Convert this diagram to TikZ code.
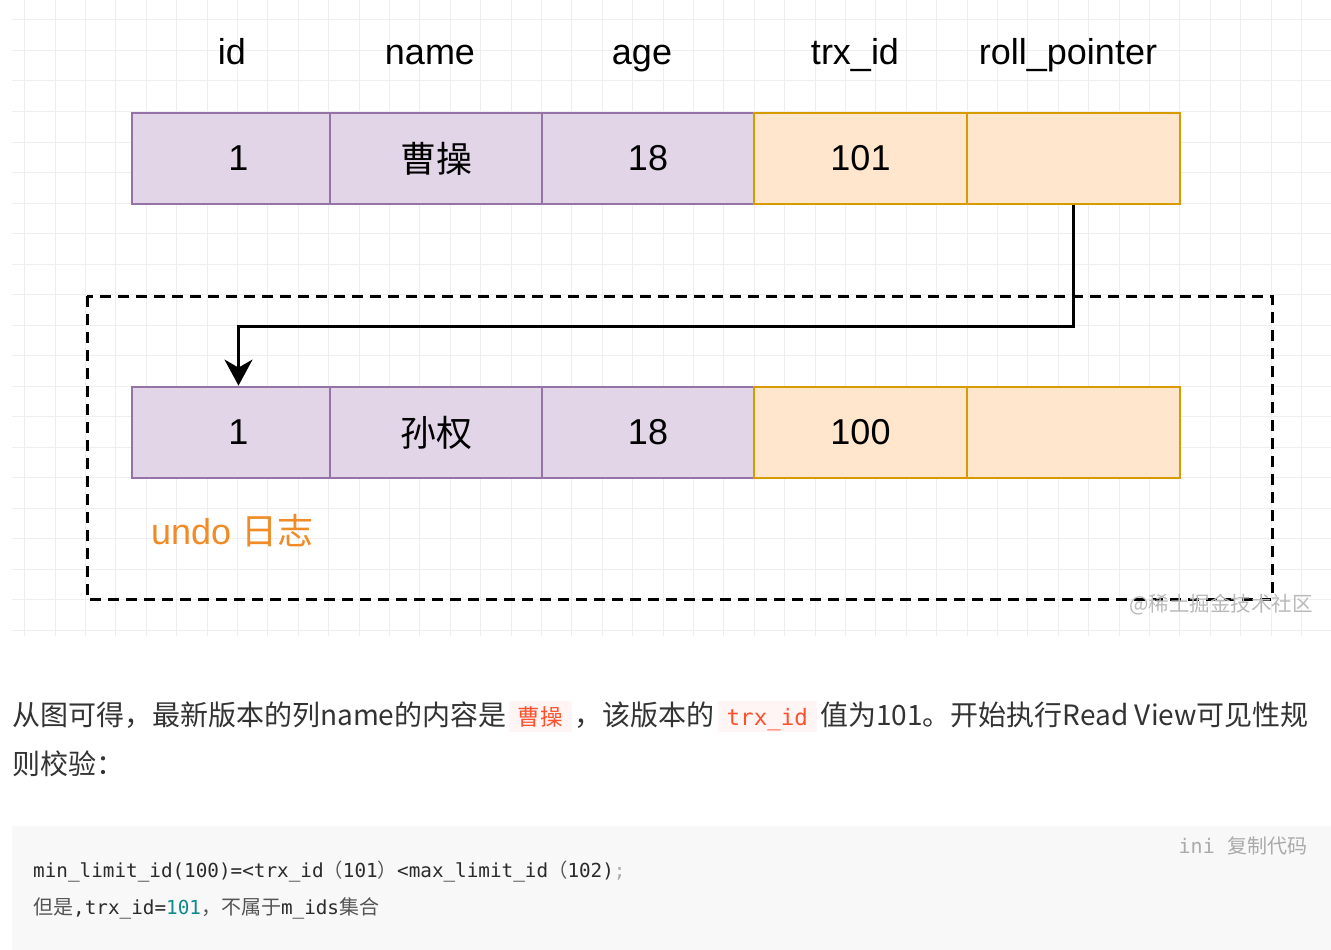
\documentclass[tikz,border=0pt]{standalone}
\usepackage{fontspec}
\setmainfont{Liberation Sans}
\newfontfamily\cjk{Noto Sans CJK SC}
\newfontfamily\mono{DejaVu Sans Mono}
\usetikzlibrary{arrows.meta}
\definecolor{pfill}{HTML}{E1D5E7}
\definecolor{pdraw}{HTML}{9673A6}
\definecolor{ofill}{HTML}{FFE6CC}
\definecolor{odraw}{HTML}{D79B00}
\definecolor{gridc}{HTML}{EEEEEE}
\definecolor{undoc}{HTML}{F08C28}
\definecolor{txt}{HTML}{333333}
\definecolor{codetxt}{HTML}{2B2B2B}
\definecolor{codecjk}{HTML}{555555}
\definecolor{codered}{HTML}{FF502C}
\definecolor{codebg}{HTML}{FFF5F5}
\definecolor{blockbg}{HTML}{F8F8F8}
\definecolor{numc}{HTML}{108A8A}
\definecolor{hint}{HTML}{AAAAAA}
\tikzset{
  cell/.style={line width=2.8pt, minimum height=91pt, inner sep=0pt,
    font=\fontsize{36}{40}\selectfont},
  pcell/.style={cell, fill=pfill, draw=pdraw},
  ocell/.style={cell, fill=ofill, draw=odraw},
  head/.style={font=\fontsize{36}{40}\selectfont, inner sep=0pt, anchor=base},
  ptext/.style={inner sep=0pt, text=txt, font=\cjk\fontsize{28}{34}\selectfont},
  icode/.style={inner xsep=9pt, inner ysep=2pt, text height=22pt, text depth=5pt,
    fill=codebg, text=codered, rounded corners=2pt, font=\fontsize{22.5}{26}\selectfont},
  ctext/.style={inner sep=0pt, text=codetxt, font=\fontsize{19.3}{23}\selectfont},
  link/.style={line width=2.8pt, -{Stealth[length=26pt,width=28pt,inset=8pt]}},
}
\begin{document}
\begin{tikzpicture}[x=1pt,y=-1pt]
\useasboundingbox (0,0) rectangle (1331,950);
\fill[white] (0,0) rectangle (1331,950);
% grid
\foreach \i in {0,...,42} \draw[gridc, line width=1pt] ({24.7+30.4*\i},0) -- ++(0,636);
\foreach \j in {0,...,20} \draw[gridc, line width=1pt] (12,{20+30.5*\j}) -- (1331,{20+30.5*\j});
% headers
\node[head] (hid) at (232,65) {id};
\node[head] (hname) at (430,65) {name};
\node[head] (hage) at (642,65) {age};
\node[head] (htrx) at (855,65) {trx\_id};
\node[head] (hrp) at (1068,65) {roll\_pointer};
% dashed undo box
\draw[line width=3pt, dash pattern=on 11pt off 7pt] (87,296) rectangle (1272,599);
% top row
\node[pcell, minimum width=213pt] (id1) at (238.5,158.5) {1};
\node[pcell, minimum width=212pt] (name1) at (436,158.5) {\cjk 曹操};
\node[pcell, minimum width=212pt] (age1) at (648,158.5) {18};
\node[ocell, minimum width=213pt] (trx1) at (860.5,158.5) {101};
\node[ocell, minimum width=213pt] (rp1) at (1073.5,158.5) {};
% bottom row
\node[pcell, minimum width=213pt] (id2) at (238.5,432.5) {1};
\node[pcell, minimum width=212pt] (name2) at (436,432.5) {\cjk 孙权};
\node[pcell, minimum width=212pt] (age2) at (648,432.5) {18};
\node[ocell, minimum width=213pt] (trx2) at (860.5,432.5) {100};
\node[ocell, minimum width=213pt] (rp2) at (1073.5,432.5) {};
% pointer
\draw[link] (rp1.south) -- ++(0,121) -| (id2.north);
% labels
\node[inner sep=0pt, text=undoc, font=\fontsize{36}{40}\selectfont, anchor=west] (undo) at (151,531) {undo {\cjk 日志}};
\node[inner sep=0pt, text=gray!55, font=\cjk\fontsize{20.5}{24}\selectfont] (wm) at (1221,605) {@稀土掘金技术社区};
% paragraph
\node[ptext, anchor=base west] (t1) at (12,725) {从图可得，最新版本的列name的内容是};
\node[icode, anchor=base west] (c1) at ([xshift=2pt]t1.base east) {\cjk 曹操};
\node[ptext, anchor=base west] (t2) at ([xshift=2pt]c1.base east) {，该版本的};
\node[icode, anchor=base west] (c2) at ([xshift=3pt]t2.base east) {\mono trx\_id};
\node[ptext, anchor=base west] (t3) at ([xshift=3pt]c2.base east) {值为101。开始执行Read View可见性规};
\node[ptext, anchor=base west] (t4) at (12,774) {则校验：};
% code block
\fill[blockbg] (12,826) rectangle (1331,950);
\node[inner sep=0pt, text=hint, font=\fontsize{20}{24}\selectfont, anchor=base east] (hint) at (1308,853) {{\mono ini}\hspace{13pt}{\cjk 复制代码}};
\node[ctext, anchor=base west] (code1) at (33,877) {{\mono min\_limit\_id(100)=<trx\_id}{\cjk\color{codecjk}（}{\mono 101}{\cjk\color{codecjk}）}{\mono <max\_limit\_id}{\cjk\color{codecjk}（}{\mono 102)}{\mono\color{hint};}};
\node[ctext, anchor=base west] (code2) at (33,914) {{\cjk\color{codecjk}\fontsize{20}{23}\selectfont 但是}{\mono ,trx\_id=}{\mono\color{numc}101}{\cjk\color{codecjk}\fontsize{20}{23}\selectfont ，不属于}{\mono m\_ids}{\cjk\color{codecjk}\fontsize{20}{23}\selectfont 集合}};
\end{tikzpicture}
\end{document}
